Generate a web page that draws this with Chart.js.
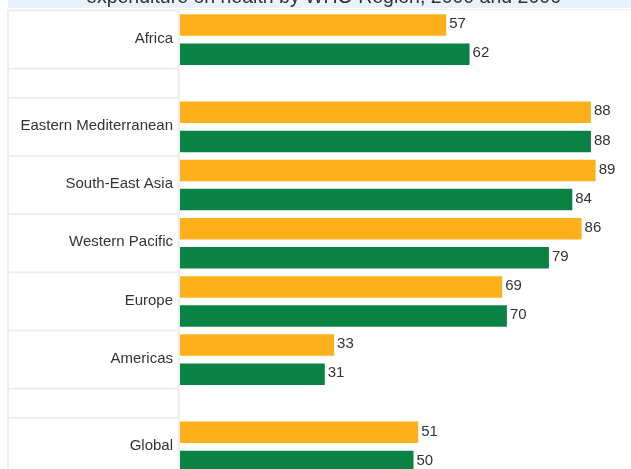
<!DOCTYPE html>
<html>
<head>
<meta charset="utf-8">
<script src="https://cdn.jsdelivr.net/npm/chart.js@4"></script>
<style>
  html, body { margin: 0; padding: 0; background: #ffffff; overflow: hidden; width: 631px; height: 469px; }
  #wrap { position: absolute; left: 0; top: -20px; width: 647px; height: 496px; }
  canvas { display: block; }
</style>
</head>
<body>
<div id="wrap"><canvas id="c" width="647" height="496" style="width:647px;height:496px"></canvas></div>
<script>
// ---- data ----
const regions = ['Africa', '', 'Eastern Mediterranean', 'South-East Asia', 'Western Pacific', 'Europe', 'Americas', '', 'Global'];
const years = ['2000', '2006'];
const values2000 = [57, null, 88, 89, 86, 69, 33, null, 51];
const values2006 = [62, null, 88, 84, 79, 70, 31, null, 50];
const titleText = 'expenditure on health by WHO Region, 2000 and 2006';

// ---- build slot table (one slot per bar, one slot per spacer row) ----
const slotLabels = [];
const slot2000 = [];
const slot2006 = [];
const regionSlots = []; // [firstSlot, lastSlot, label]
regions.forEach((r, i) => {
  if (values2000[i] === null && values2006[i] === null) {
    regionSlots.push([slotLabels.length, slotLabels.length, r]);
    slotLabels.push('spacer' + i);
    slot2000.push(null); slot2006.push(null);
  } else {
    const first = slotLabels.length;
    slotLabels.push(r + ' ' + years[0]); slot2000.push(values2000[i]); slot2006.push(null);
    slotLabels.push(r + ' ' + years[1]); slot2000.push(null); slot2006.push(values2006[i]);
    regionSlots.push([first, first + 1, r]);
  }
});

const FONT = '"Liberation Sans", Arial, Helvetica, sans-serif';
const ORANGE = '#FCB11B';
const GREEN = '#0A8243';

const backgroundPlugin = {
  id: 'bg',
  beforeDraw(chart) {
    const ctx = chart.ctx;
    const W = chart.width;
    const top = chart.chartArea.top;
    ctx.save();
    ctx.fillStyle = '#E9F1FA';
    ctx.fillRect(8, 0, W - 8, top - 2.5);
    ctx.fillStyle = '#F0F0F0';
    ctx.fillRect(8, top - 1.5, W - 8, 1.5);
    ctx.restore();
  }
};

const cellsPlugin = {
  id: 'cells',
  afterDraw(chart) {
    const ctx = chart.ctx;
    const y = chart.scales.y;
    const left = chart.chartArea.left;
    const half = (y.getPixelForValue(1) - y.getPixelForValue(0)) / 2;
    ctx.save();
    ctx.fillStyle = '#EEEEEE';
    ctx.fillRect(7, chart.chartArea.top - 1, left - 7, chart.chartArea.bottom - chart.chartArea.top + 1);
    regionSlots.forEach(([a, b, label]) => {
      const t = y.getPixelForValue(a) - half;
      const bt = y.getPixelForValue(b) + half;
      ctx.fillStyle = '#FFFFFF';
      ctx.fillRect(9, t + 1, left - 11.5, bt - t - 2);
      if (label) {
        ctx.fillStyle = '#333333';
        ctx.font = '15px ' + FONT;
        ctx.textAlign = 'right';
        ctx.textBaseline = 'middle';
        ctx.fillText(label, left - 7, (t + bt) / 2 - 1);
      }
    });
    ctx.font = '15px ' + FONT;
    ctx.textAlign = 'left';
    ctx.textBaseline = 'middle';
    ctx.fillStyle = '#333333';
    chart.data.datasets.forEach((ds, di) => {
      const meta = chart.getDatasetMeta(di);
      meta.data.forEach((el, i) => {
        const v = ds.data[i];
        if (v === null || v === undefined) return;
        ctx.fillText(String(v), el.x + 3, el.y - 1);
      });
    });
    ctx.restore();
  }
};

new Chart(document.getElementById('c'), {
  type: 'bar',
  data: {
    labels: slotLabels,
    datasets: [
      { label: years[0], data: slot2000, backgroundColor: ORANGE, borderWidth: 0 },
      { label: years[1], data: slot2006, backgroundColor: GREEN, borderWidth: 0 }
    ]
  },
  options: {
    indexAxis: 'y',
    responsive: false,
    animation: false,
    devicePixelRatio: 1,
    skipNull: true,
    categoryPercentage: 1,
    barPercentage: 0.74,
    layout: { padding: 0 },
    plugins: {
      legend: { display: false },
      tooltip: { enabled: false },
      title: {
        display: true,
        text: titleText,
        color: '#333333',
        font: { family: FONT, size: 19.5, weight: 'normal', lineHeight: 1.1 },
        padding: { top: 7, bottom: 2.05 }
      }
    },
    scales: {
      x: { display: false, min: 0, max: 100 },
      y: {
        display: true,
        ticks: { display: false },
        grid: { display: false },
        border: { display: false },
        afterFit(scale) { scale.width = 180; }
      }
    }
  },
  plugins: [backgroundPlugin, cellsPlugin]
});
</script>
</body>
</html>
